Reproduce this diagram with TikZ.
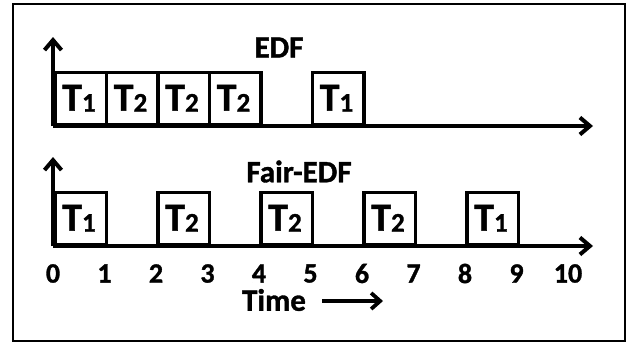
\documentclass[tikz,border=0pt]{standalone}
\usepackage{fontspec}
\setmainfont{Carlito}[BoldFeatures={FakeBold=1.2}]
\usetikzlibrary{arrows.meta}
\begin{document}
\begin{tikzpicture}[x=1pt,y=-1pt,
  task/.style={draw=black,line width=3.5pt,minimum width=51.5pt,minimum height=52pt,inner sep=0pt,anchor=south west,font=\fontsize{40}{40}\selectfont\bfseries},
  axis/.style={line width=3.4pt,-{Straight Barb[length=10pt,width=17pt,line width=0.6pt 1]}},
  lbl/.style={font=\fontsize{31}{31}\selectfont\bfseries,inner sep=0pt},
  num/.style={font=\fontsize{28}{28}\selectfont\bfseries,inner sep=0pt}]
\newcommand{\tsk}[1]{\hspace*{-3pt}T\raisebox{-1pt}{\fontsize{27}{27}\selectfont #1}}
\useasboundingbox (0,0) rectangle (631,343);
\node[draw=black,line width=2pt,minimum width=612pt,minimum height=337pt,inner sep=0pt] (frame) at (319,172.5) {};
% EDF
\coordinate (o1) at (53,126);
\coordinate (x1) at (593,126);
\coordinate (y1) at (53,37);
\node[task] (e0) at (53,126) {\tsk{1}};
\node[task] (e1) at (104.5,126) {\tsk{2}};
\node[task] (e2) at (156,126) {\tsk{2}};
\node[task] (e3) at (207.5,126) {\tsk{2}};
\node[task] (e5) at (310.5,126) {\tsk{1}};
\draw[axis] (o1) -- (x1);
\draw[axis] (o1) -- (y1);
\node[lbl] (edf) at (279,47.5) {EDF};
% Fair-EDF
\coordinate (o2) at (53,246);
\coordinate (x2) at (593,246);
\coordinate (y2) at (53,157);
\node[task] (f0) at (53,246) {\tsk{1}};
\node[task] (f2) at (156,246) {\tsk{2}};
\node[task] (f4) at (259,246) {\tsk{2}};
\node[task] (f6) at (362,246) {\tsk{2}};
\node[task] (f8) at (465,246) {\tsk{1}};
\draw[axis] (o2) -- (x2);
\draw[axis] (o2) -- (y2);
\node[lbl] (fedf) at (299,171.5) {Fair-EDF};
% numbers
\foreach \i in {0,...,10} {\node[num] (n\i) at (53+51.5*\i,273.5) {\i};}
\node[lbl] (time) at (274,300) {Time};
\coordinate (ta) at (322,301);
\coordinate (tb) at (383,301);
\draw[line width=3.2pt,-{Straight Barb[length=9pt,width=16pt,line width=0.6pt 1]}] (ta) -- (tb);
\end{tikzpicture}
\end{document}
